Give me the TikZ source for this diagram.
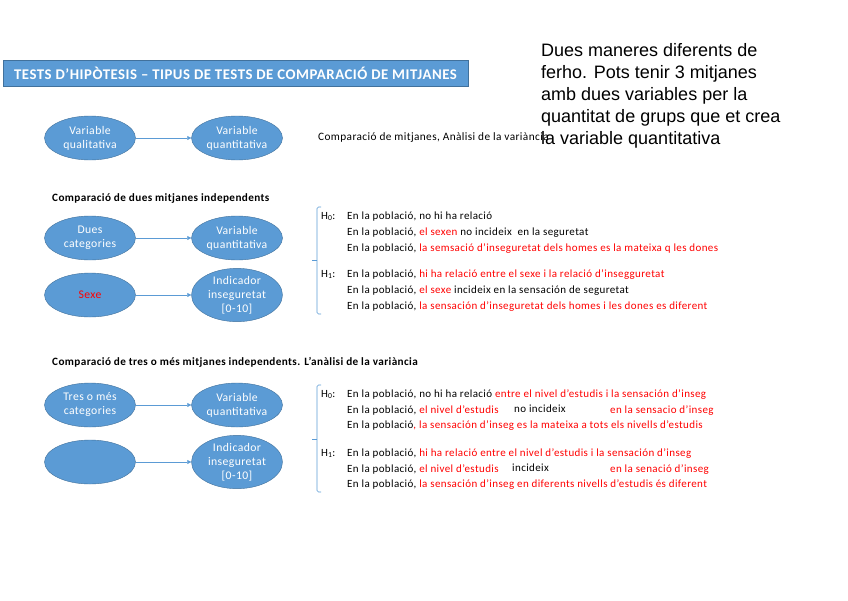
\documentclass[tikz,border=0pt]{standalone}
\usepackage{fontspec}
\setmainfont[LetterSpace=3.5]{Carlito}
\newfontfamily\notefont{Liberation Sans}
\usetikzlibrary{arrows.meta,shapes.geometric}
\definecolor{boxblue}{HTML}{5B9BD5}
\definecolor{edgeblue}{HTML}{41719C}
\definecolor{hred}{HTML}{FF0000}

\begin{document}
\begin{tikzpicture}[x=1pt,y=-1pt,>={Triangle[length=4pt,width=4pt]},
  var/.style={ellipse,draw=edgeblue,fill=boxblue,text=white,minimum width=91pt,
    minimum height=44pt,inner sep=0pt,align=center,font=\fontsize{11.7}{14}\selectfont},
  link/.style={->,draw=boxblue,line width=0.6pt},
  hyp/.style={anchor=base west,inner sep=0pt,font=\fontsize{11}{12}\selectfont},
  head/.style={anchor=base west,inner sep=0pt,font=\bfseries\fontsize{11.2}{12}\selectfont}]
  \def\hbrace#1#2#3{%
    \draw[boxblue,line width=0.6pt,rounded corners=1.5pt] (321,#1) -- (317,#1) -- (317,#3) -- (321,#3);
    \draw[boxblue,line width=0.6pt] (317,#2) -- (312,#2);}
  \useasboundingbox (0,0) rectangle (848,600);
  % title
  \node[draw=edgeblue,fill=boxblue,text=white,minimum width=465pt,minimum height=26pt,inner sep=0pt,
    font=\bfseries\fontsize{14.8}{16}\selectfont] (title) at (235.5,73) {TESTS D’HIPÒTESIS – TIPUS DE TESTS DE COMPARACIÓ DE MITJANES};
  % note
  \foreach \txt [count=\i] in {Dues maneres diferents de,ferho. Pots tenir 3 mitjanes,amb dues variables per la,
    quantitat de grups que et crea,la variable quantitativa}
    \node[anchor=base west,inner sep=0pt,font=\notefont\fontsize{18}{22}\selectfont] (note\i) at (541,{34+22*\i}) {\txt};
  % general case
  \node[var] (qual) at (90,138) {Variable\\qualitativa};
  \node[var] (quant) at (237,138) {Variable\\quantitativa};
  \draw[link] (qual) -- (quant);
  \node[hyp,font=\fontsize{11.3}{12}\selectfont] (general) at (318,140) {Comparació de mitjanes, Anàlisi de la variància};
  % two means
  \node[head] (twohead) at (52,201) {Comparació de dues mitjanes independents};
  \node[var] (twocat) at (90,238) {Dues\\categories};
  \node[var] (twoquant) at (237,238) {Variable\\quantitativa};
  \node[var,text=hred] (sexe) at (90,295) {Sexe};
  \node[var,minimum height=47pt] (twoind) at (237,295) {Indicador\\inseguretat\\{[0-10]}};
  \draw[link] (twocat) -- (twoquant);
  \draw[link] (sexe) -- (twoind);
  \hbrace{207}{260}{314}
  \node[hyp] (twoh0) at (321,219) {H\textsubscript{0}:};
  \node[hyp] (twoa) at (347,219) {En la població, no hi ha relació};
  \node[hyp] (twob) at (347,235) {En la població, \textcolor{hred}{el sexen} no incideix\ \ en la seguretat};
  \node[hyp] (twoc) at (347,251) {En la població, \textcolor{hred}{la semsació d’inseguretat dels homes es la mateixa q les dones}};
  \node[hyp] (twoh1) at (321,277) {H\textsubscript{1}:};
  \node[hyp] (twod) at (347,277) {En la població, \textcolor{hred}{hi ha relació entre el sexe i la relació d’insegguretat}};
  \node[hyp] (twoe) at (347,293) {En la població, \textcolor{hred}{el sexe} incideix en la sensación de seguretat};
  \node[hyp] (twof) at (347,309) {En la població,\ \textcolor{hred}{la sensación d’inseguretat dels homes i les dones es diferent}};
  % three or more means
  \node[head] (threehead) at (52,365) {Comparació de tres o més mitjanes independents. L’anàlisi de la variància};
  \node[var] (threecat) at (90,405) {Tres o més\\categories};
  \node[var] (threequant) at (237,405) {Variable\\quantitativa};
  \node[var] (blank) at (90,462) {};
  \node[var,minimum height=47pt] (threeind) at (237,462) {Indicador\\inseguretat\\{[0-10]}};
  \draw[link] (threecat) -- (threequant);
  \draw[link] (blank) -- (threeind);
  \hbrace{385}{439}{492}
  \node[hyp] (threeh0) at (321,397) {H\textsubscript{0}:};
  \node[hyp] (threea) at (347,397) {En la població, no hi ha relació \textcolor{hred}{entre el nivel d’estudis i la sensación d’inseg}};
  \node[hyp] (threeb) at (347,413) {En la població, \textcolor{hred}{el nivel d’estudis}};
  \node[hyp] (threeb2) at (514,412) {no incideix};
  \node[hyp] (threeb3) at (610,413) {\textcolor{hred}{en la sensacio d’inseg}};
  \node[hyp] (threec) at (347,428) {En la població\textcolor{hred}{, la sensación d’inseg es la mateixa a tots els nivells d’estudis}};
  \node[hyp] (threeh1) at (321,456) {H\textsubscript{1}:};
  \node[hyp] (threed) at (347,456) {En la població, \textcolor{hred}{hi ha relació entre el nivel d’estudis i la sensación d’inseg}};
  \node[hyp] (threee) at (347,472) {En la població, \textcolor{hred}{el nivel d’estudis}};
  \node[hyp] (threee2) at (512,471) {incideix};
  \node[hyp] (threee3) at (610,472) {\textcolor{hred}{en la senació d’inseg}};
  \node[hyp] (threef) at (347,487) {En la població, \textcolor{hred}{la sensación d’inseg en diferents nivells d’estudis és diferent}};
\end{tikzpicture}
\end{document}
